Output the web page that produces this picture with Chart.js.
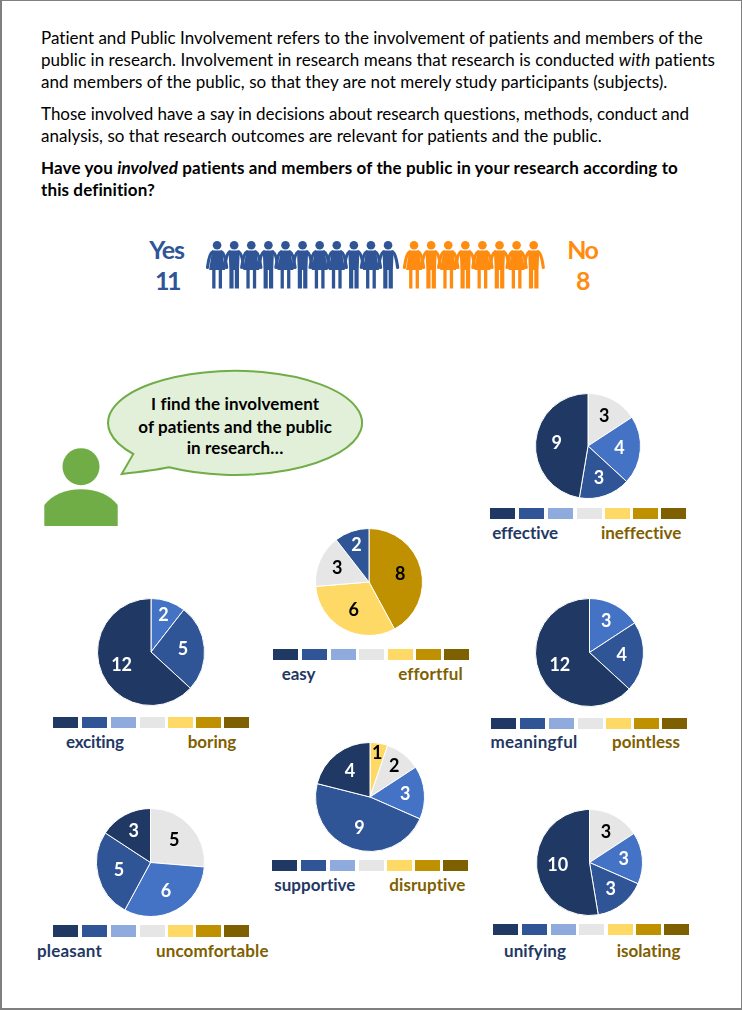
<!DOCTYPE html>
<html>
<head>
<meta charset="utf-8">
<script src="https://cdn.jsdelivr.net/npm/chart.js@4"></script>
<style>
html,body{margin:0;padding:0;background:#fff}
#page{position:relative;width:742px;height:1010px;overflow:hidden;background:#fff;font-family:Lato,sans-serif}
#frame{position:absolute;left:0;top:0;width:739px;height:1007px;border:solid #7f7f7f;border-width:1px 1px 2px 2px}
.t{position:absolute;left:0;top:0;white-space:nowrap;line-height:1.2}
canvas{position:absolute}
.sw{position:absolute}
svg{position:absolute;left:0;top:0}
</style>
</head>
<body>
<div id="page">
<div id="frame"></div>
<svg width="742" height="1010">
  <path d="M169 467.3 C 156 470 140 472 121.7 474 L133.3 454 A127 52 0 1 1 169 467.3 Z" fill="#E2F0D9" stroke="#70AD47" stroke-width="2"/>
  <circle cx="81" cy="466.7" r="18.5" fill="#70AD47"/>
  <path d="M44.3 526 L44.3 505 C 52 495 66 489.3 81 489.3 C 96 489.3 110 495 117.7 505 L117.7 526 Z" fill="#70AD47"/>
</svg>
</div>
<script>
// ---------- data ----------
const scaleLevels = [7, 6, 5, 4, 3, 2, 1]; // clockwise from 12 o'clock: negative end to positive end
const effective  = [0, 0, 0, 3, 4, 3, 9];
const effortful  = [0, 8, 6, 3, 0, 2, 0];
const exciting   = [0, 0, 0, 0, 2, 5, 12];
const meaningful = [0, 0, 0, 0, 3, 4, 12];
const supportive = [0, 0, 1, 2, 3, 9, 4];
const pleasant   = [0, 0, 0, 5, 6, 5, 3];
const unifying   = [0, 0, 0, 3, 3, 3, 10];
const yesLabel = 'Yes', noLabel = 'No';
const yesFigures = ['w','m','w','m','w','m','w','w','m','w','m'];
const noFigures  = ['w','m','w','m','w','m','w','m'];

// ---------- style ----------
const sliceColors  = ['#7F6000','#BF9000','#FFD966','#E7E6E6','#4472C4','#2F5597','#1F3864'];
const labelColors  = ['#fff','#000','#000','#000','#fff','#fff','#fff'];
const swatchColors = ['#1F3864','#2F5597','#8FAADC','#E7E6E6','#FFD966','#BF9000','#7F6000'];
const swatchOffsets = [0, 29, 58, 86.7, 115, 143, 171];
const navy = '#1F3864', brown = '#7F6000', blue = '#2F5597', orange = '#FF8C10';

// ---------- layout ----------
const pieLayout = [
  {v:effective,  cx:588.3, cy:445.7, r:52.5, sx:490.3, sy:508,   a:['effective',525,65.7],  b:['ineffective',641,80],   base:539},
  {v:effortful,  cx:368.5, cy:581.7, r:53.5, sx:272.7, sy:649,   a:['easy',298.5,33.5],      b:['effortful',430,63.5],    base:680},
  {v:exciting,   cx:150.7, cy:651.5, r:53.5, sx:53.3,  sy:716.7, a:['exciting',95,58],       b:['boring',212,48.5],       base:748},
  {v:meaningful, cx:589,   cy:652,   r:54,   sx:491,   sy:718,   a:['meaningful',534,87],    b:['pointless',646,68],      base:748},
  {v:supportive, cx:370.3, cy:797.3, r:54.3, sx:272.3, sy:859.7, a:['supportive',315,81.5],  b:['disruptive',427.5,76.5], base:891},
  {v:pleasant,   cx:150,   cy:862,   r:54,   sx:53.3,  sy:925.3, a:['pleasant',69.5,65],     b:['uncomfortable',212.3,112.7], base:957},
  {v:unifying,   cx:589,   cy:862,   r:53,   sx:492.5, sy:924,   a:['unifying',535,62],      b:['isolating',648.7,64],    base:957}
];
const bodyLines = [
  ['Patient and Public Involvement refers to the involvement of patients and members of the', 41, 43.7, 662.3],
  ['public in research. Involvement in research means that research is conducted <i>with</i> patients', 41, 66, 674.3],
  ['and members of the public, so that they are not merely study participants (subjects).', 41, 88, 626.7],
  ['Those involved have a say in decisions about research questions, methods, conduct and', 41, 119.7, 648.3],
  ['analysis, so that research outcomes are relevant for patients and the public.', 41, 141.7, 561],
  ['<b>Have you <i>involved</i> patients and members of the public in your research according to</b>', 41, 174, 637.3],
  ['<b>this definition?</b>', 41, 195.7, 114]
];
const bubbleLines = [
  ['I find the involvement', 151, 410.3, 168],
  ['of patients and the public', 138.3, 432.5, 194],
  ['in research…', 186.7, 454.3, 96.7]
];

const page = document.getElementById('page');

// text placed by baseline, with tracking fitted to the measured width
function placeText(html, x, baseline, width, opts) {
  const el = document.createElement('div');
  el.className = 't';
  el.style.fontSize = opts.size + 'px';
  el.style.color = opts.color || '#000';
  if (opts.bold) el.style.fontWeight = '700';
  el.innerHTML = html;
  const probe = document.createElement('span');
  probe.style.cssText = 'display:inline-block;width:0;height:0';
  el.appendChild(probe);
  page.appendChild(el);
  const w = el.getBoundingClientRect().width;
  const n = el.textContent.length;
  el.style.letterSpacing = ((width - w) / n) + 'px';
  const b = probe.getBoundingClientRect().bottom - page.getBoundingClientRect().top;
  el.style.top = (baseline - b) + 'px';
  el.style.left = x + 'px';
  el.removeChild(probe);
}
bodyLines.forEach(l => placeText(l[0], l[1], l[2], l[3], {size:17}));
bubbleLines.forEach(l => placeText(l[0], l[1], l[2], l[3], {size:17, bold:true}));
placeText(yesLabel, 149.3, 258.5, 34.7, {size:25, bold:true, color:blue});
placeText(String(yesFigures.length), 155, 290.3, 24, {size:25, bold:true, color:blue});
placeText(noLabel, 567.3, 258.5, 30, {size:25, bold:true, color:orange});
placeText(String(noFigures.length), 576, 290.3, 12.3, {size:25, bold:true, color:orange});

// ---------- pictogram ----------
function drawFigure(g, kind, cx, cy, color) {
  g.save();
  g.translate(cx, cy - 24);          // origin: top of the figure on its axis
  g.fillStyle = color; g.strokeStyle = color; g.lineCap = 'round'; g.lineWidth = 3.2;
  g.beginPath(); g.arc(0, 4.3, 4.3, 0, Math.PI * 2); g.fill();
  [-1, 1].forEach(s => {
    g.beginPath(); g.moveTo(s * 4.5, 11);
    g.quadraticCurveTo(s * 7.8, 12, s * 9.6, 26.5);
    g.stroke();
  });
  if (kind === 'w') {
    g.beginPath();
    g.moveTo(-5, 9.4); g.lineTo(5, 9.4); g.lineTo(8, 29); g.lineTo(-8, 29);
    g.closePath(); g.fill();
    g.fillRect(-4.9, 29, 3.3, 18.5);
    g.fillRect(1.6, 29, 3.3, 18.5);
  } else {
    g.beginPath();
    g.moveTo(-5.6, 9.4); g.lineTo(5.6, 9.4); g.lineTo(4.8, 29); g.lineTo(-4.8, 29);
    g.closePath(); g.fill();
    g.fillRect(-4.8, 29, 4.2, 18.5);
    g.fillRect(0.6, 29, 4.2, 18.5);
  }
  g.restore();
}
const figureMarks = {
  id: 'figureMarks',
  afterDatasetsDraw(chart) {
    chart.data.datasets.forEach((ds, d) => {
      chart.getDatasetMeta(d).data.forEach((pt, i) => {
        drawFigure(chart.ctx, ds.kinds[i], pt.x, pt.y, ds.figureColor);
      });
    });
  }
};
const noStart = 11.52;
const peopleCanvas = document.createElement('canvas');
peopleCanvas.width = 359; peopleCanvas.height = 60;
peopleCanvas.style.left = '199.6px'; peopleCanvas.style.top = '235px';
page.appendChild(peopleCanvas);
new Chart(peopleCanvas, {
  type: 'scatter',
  data: { datasets: [
    { label: yesLabel, data: yesFigures.map((_, i) => ({x: i, y: 0})),
      kinds: yesFigures, figureColor: blue, pointRadius: 0 },
    { label: noLabel, data: noFigures.map((_, i) => ({x: noStart + i, y: 0})),
      kinds: noFigures, figureColor: orange, pointRadius: 0 }
  ]},
  options: {
    responsive: false, animation: false, events: [],
    layout: { padding: 0 },
    plugins: { legend: {display:false}, tooltip: {enabled:false} },
    scales: {
      x: { type:'linear', min:-1, max:20, display:false },
      y: { type:'linear', min:-1, max:1, display:false }
    }
  },
  plugins: [figureMarks]
});

// ---------- pies ----------
const labelReach = v => v <= 1 ? 0.81 : v === 2 ? 0.72 : v === 3 ? 0.65 : 0.6;
const sliceLabels = {
  id: 'sliceLabels',
  afterDatasetsDraw(chart) {
    const g = chart.ctx, meta = chart.getDatasetMeta(0), vals = chart.data.datasets[0].data;
    g.save();
    g.font = '700 18px Lato, sans-serif';
    g.textAlign = 'center'; g.textBaseline = 'middle';
    meta.data.forEach((arc, i) => {
      if (!vals[i]) return;
      const p = arc.getProps(['x','y','startAngle','endAngle','outerRadius']);
      const a = (p.startAngle + p.endAngle) / 2;
      const d = p.outerRadius * labelReach(vals[i]);
      g.fillStyle = labelColors[i];
      g.fillText(String(vals[i]), p.x + Math.cos(a) * d, p.y + Math.sin(a) * d);
    });
    g.restore();
  }
};
pieLayout.forEach(p => {
  const size = Math.round(2 * p.r) + 1;
  const c = document.createElement('canvas');
  c.width = size; c.height = size;
  c.style.left = Math.round(p.cx - size / 2) + 'px';
  c.style.top = Math.round(p.cy - size / 2) + 'px';
  page.appendChild(c);
  new Chart(c, {
    type: 'doughnut',
    data: { labels: scaleLevels, datasets: [{
      data: p.v, backgroundColor: sliceColors,
      borderColor: '#fff', borderWidth: 1
    }]},
    options: {
      responsive: false, animation: false, events: [], cutout: 0,
      layout: { padding: 0 },
      plugins: { legend: {display:false}, tooltip: {enabled:false} }
    },
    plugins: [sliceLabels]
  });
  swatchColors.forEach((col, i) => {
    const s = document.createElement('div');
    s.className = 'sw';
    s.style.cssText = `left:${p.sx + swatchOffsets[i]}px;top:${p.sy}px;width:25px;height:11.4px;background:${col}`;
    page.appendChild(s);
  });
  placeText(p.a[0], p.a[1] - p.a[2] / 2, p.base, p.a[2], {size:17, bold:true, color:navy});
  placeText(p.b[0], p.b[1] - p.b[2] / 2, p.base, p.b[2], {size:17, bold:true, color:brown});
});
</script>
</body>
</html>
